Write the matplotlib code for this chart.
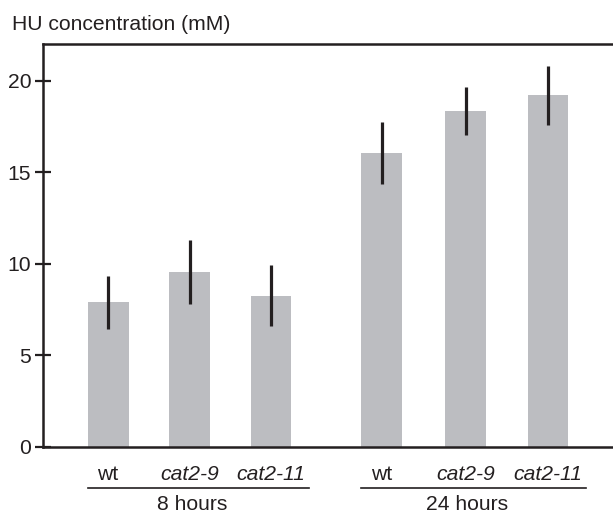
import matplotlib
matplotlib.use("Agg")
import matplotlib.pyplot as plt
import matplotlib.transforms as mtransforms

plt.rcParams["font.family"] = ["Liberation Sans", "DejaVu Sans"]

# data
groups = ["8 hours", "24 hours"]
labels = ["wt", "cat2-9", "cat2-11", "wt", "cat2-9", "cat2-11"]
italic = [False, True, True, False, True, True]
values = [7.9, 9.55, 8.27, 16.05, 18.35, 19.2]
errors = [1.45, 1.75, 1.65, 1.7, 1.3, 1.6]
positions = [0, 1, 2, 3.36, 4.39, 5.4]
group_members = [[0, 1, 2], [3, 4, 5]]

bar_color = "#bcbdc1"
ink = "#231f20"
fs = 15.2

fig = plt.figure(figsize=(6.13, 5.13), dpi=100)
ax = fig.add_axes([43 / 613, 1 - 447 / 513, 1 - 43 / 613, (447 - 44) / 513])

ax.bar(positions, values, width=0.5, color=bar_color, zorder=1)
ax.errorbar(positions, values, yerr=errors, fmt="none", ecolor=ink,
            elinewidth=2.3, capsize=0, zorder=2)

ax.set_xlim(-0.8, 6.2)
ax.set_ylim(0, 22)
ax.set_yticks([0, 5, 10, 15, 20])
ax.set_xticks([])
ax.tick_params(axis="y", direction="inout", length=11, width=1.6,
               color=ink, labelsize=fs, labelcolor=ink, pad=3)

ax.spines["right"].set_visible(False)
for s in ["left", "top", "bottom"]:
    ax.spines[s].set_linewidth(1.8)
    ax.spines[s].set_color(ink)

trans = mtransforms.blended_transform_factory(ax.transData, ax.transAxes)
for x, lab, it in zip(positions, labels, italic):
    ax.text(x, -0.081, lab, transform=trans, ha="center", va="baseline",
            fontsize=fs, style="italic" if it else "normal", color=ink)

for name, idx in zip(groups, group_members):
    x0 = positions[idx[0]] - 0.25
    x1 = positions[idx[-1]] + 0.47
    ax.plot([x0, x1], [-0.102, -0.102], transform=trans, color=ink,
            lw=1.2, clip_on=False)
    xc = (positions[idx[0]] + positions[idx[-1]]) / 2 + 0.03
    ax.text(xc, -0.156, name, transform=trans, ha="center", va="baseline",
            fontsize=fs, color=ink)

fig.text(12 / 613, 1 - 30 / 513, "HU concentration (mM)", ha="left",
         va="baseline", fontsize=fs, color=ink)

fig.savefig("out.png", dpi=100)
